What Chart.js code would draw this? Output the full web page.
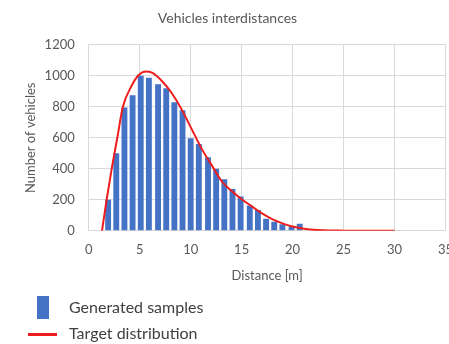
<!DOCTYPE html>
<html>
<head>
<meta charset="utf-8">
<script src="https://cdn.jsdelivr.net/npm/chart.js@4"></script>
<style>
  html, body { margin: 0; padding: 0; background: #fff; overflow: hidden; }
  #wrap { position: relative; width: 449px; height: 344px; overflow: hidden; }
  #out { position: absolute; left: -9px; top: 0; }
  .leg { position: absolute; left: 69px; font: 16px Lato, sans-serif; color: #404040; line-height: 20px; }
  .box { position: absolute; left: 37px; top: 296px; width: 12px; height: 23px; background: #4472C4; }
  .ln { position: absolute; left: 28px; top: 333px; width: 29px; height: 3px; background: #EE1C1C; }
</style>
</head>
<body>
<div id="wrap">
  <canvas id="out" width="473" height="344"></canvas>
  <div class="box"></div>
  <div class="leg" style="top:297px">Generated samples</div>
  <div class="ln"></div>
  <div class="leg" style="top:323px">Target distribution</div>
</div>
<script>
// histogram bins (bar centres in m) and counts
const binX = [1.9, 2.7, 3.5, 4.3, 5.1, 5.9, 6.8, 7.6, 8.4, 9.2, 10.0, 10.8,
              11.7, 12.5, 13.3, 14.1, 14.9, 15.8, 16.6, 17.4, 18.2, 19.0, 19.9, 20.7];
const binCount = [200, 500, 795, 875, 1000, 988, 946, 920, 830, 778, 597, 560,
                  475, 400, 333, 270, 222, 163, 135, 78, 58, 43, 27, 45];

// target distribution curve
const curveX = [1.3, 1.75, 2.25, 2.8, 3.35, 4.2, 4.9, 5.6, 6.2, 7.2, 8.1, 9.1, 10.1,
                11.1, 12.1, 13.0, 14.0, 15.0, 16.0, 17.0, 18.0, 19.0, 20.0, 21.0,
                22.0, 23.0, 25.0, 30.0];
const curveY = [0, 200, 400, 600, 800, 935, 1005, 1028, 1020, 965, 892, 785, 656,
                527, 419, 323, 258, 204, 158, 112, 75, 48, 28, 15,
                7, 3, 1, 0];

const xTicks = [0, 5, 10, 15, 20, 25, 30, 35];
const yTicks = [0, 200, 400, 600, 800, 1000, 1200];

const grey = "#595959";
const gridCol = "#d9d9d9";

const barData = binX.map((x, i) => ({ x: x, y: binCount[i] }));
const lineData = curveX.map((x, i) => ({ x: x, y: curveY[i] }));

const ctx = document.getElementById("out").getContext("2d");
new Chart(ctx, {
  type: "bar",
  data: {
    datasets: [
      {
        type: "line",
        label: "Target distribution",
        data: lineData,
        borderColor: "#EE1C1C",
        borderWidth: 2,
        pointRadius: 0,
        cubicInterpolationMode: "monotone",
        order: 0
      },
      {
        label: "Generated samples",
        data: barData,
        backgroundColor: "#4472C4",
        categoryPercentage: 0.8,
        barPercentage: 0.9,
        order: 1
      }
    ]
  },
  options: {
    responsive: false,
    animation: false,
    layout: { padding: { top: 6, right: 0, bottom: 60, left: 0 } },
    plugins: {
      legend: { display: false },
      tooltip: { enabled: false },
      title: {
        display: true,
        text: "Vehicles interdistances",
        color: grey,
        font: { family: "Lato", size: 14, weight: "normal" },
        padding: { top: 4, bottom: 18 }
      }
    },
    scales: {
      x: {
        type: "linear",
        offset: false,
        min: 0,
        max: 35,
        afterBuildTicks: s => { s.ticks = xTicks.map(v => ({ value: v })); },
        ticks: { color: grey, font: { family: "Lato", size: 13 }, padding: 11, maxRotation: 0,
                 callback: v => String(v) },
        grid: { color: gridCol, drawTicks: false, offset: false },
        border: { color: gridCol },
        title: {
          display: true,
          text: "Distance [m]",
          color: grey,
          font: { family: "Lato", size: 13 },
          padding: { top: 0, bottom: 0 }
        }
      },
      y: {
        min: 0,
        max: 1200,
        afterBuildTicks: s => { s.ticks = yTicks.map(v => ({ value: v })); },
        ticks: { color: grey, font: { family: "Lato", size: 13 }, padding: 14,
                 callback: v => String(v) },
        grid: { color: gridCol, drawTicks: false },
        border: { color: gridCol },
        title: {
          display: true,
          text: "Number of vehicles",
          color: grey,
          font: { family: "Lato", size: 13 },
          padding: { top: 32, bottom: -8 }
        }
      }
    }
  }
});
</script>
</body>
</html>
